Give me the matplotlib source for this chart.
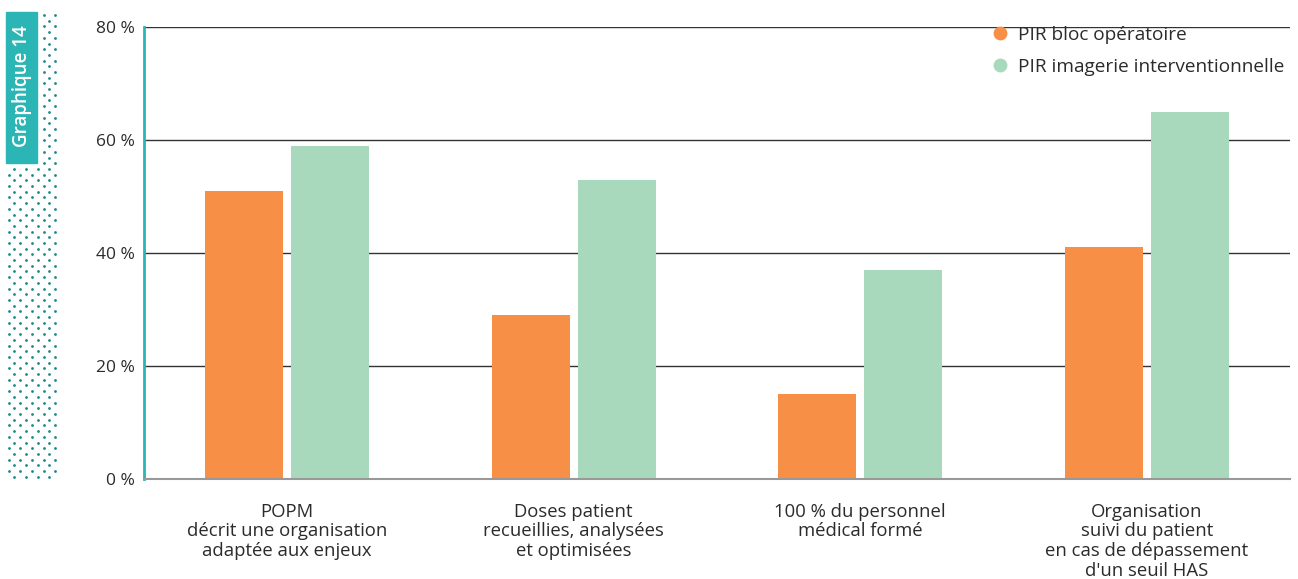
import numpy as np
import matplotlib

matplotlib.use("Agg")
import matplotlib.pyplot as plt
from matplotlib.lines import Line2D

plt.rcParams["font.family"] = ["Open Sans", "DejaVu Sans"]

CATEGORIES = [
    "POPM\ndécrit une organisation\nadaptée aux enjeux",
    "Doses patient\nrecueillies, analysées\net optimisées",
    "100 % du personnel\nmédical formé",
    "Organisation\nsuivi du patient\nen cas de dépassement\nd'un seuil HAS",
]
BLOC = [51, 29, 15, 41]
IMAGERIE = [59, 53, 37, 65]
SERIES_LABELS = ["PIR bloc opératoire", "PIR imagerie interventionnelle"]
Y_TICKS = [0, 20, 40, 60, 80]

ORANGE = "#F78F47"
GREEN = "#A9D9BC"
TEAL = "#2BB5B4"
DOT = "#1B8A86"
TEXT = "#2b2b2b"

W, H = 1298, 579
fig = plt.figure(figsize=(W / 100, H / 100), dpi=100)

# dotted band on the left edge
rows = np.arange(15, 478, 5.7)
for i, y in enumerate(rows):
    xs = np.arange(8.5 if i % 2 == 0 else 14.3, 57, 11.7)
    if y < 165:
        xs = xs[xs > 38]
    fig.add_artist(Line2D(xs / W, np.full_like(xs, 1 - y / H), ls="none",
                          marker="o", ms=2.0, mec="none", mfc=DOT))

# teal tag with the chart number
tag = plt.Rectangle((6 / W, 1 - 163 / H), 31 / W, 151 / H, transform=fig.transFigure,
                    color=TEAL, zorder=3)
fig.add_artist(tag)
fig.text(22 / W, 1 - 86 / H, "Graphique 14", rotation=90, color="white",
         fontsize=13.5, fontweight="semibold", ha="center", va="center", zorder=4)

ax = fig.add_axes([144 / W, 100 / H, 1146 / W, 452 / H])
x = np.arange(len(CATEGORIES))
bw = 0.272
off = 0.15
ax.bar(x - off, BLOC, bw, color=ORANGE, zorder=2)
ax.bar(x + off, IMAGERIE, bw, color=GREEN, zorder=2)

ax.set_xlim(-0.5, len(CATEGORIES) - 0.5)
ax.set_ylim(0, 80)
ax.set_yticks(Y_TICKS)
ax.set_yticklabels([f"{t} %" for t in Y_TICKS], fontsize=12.5, color=TEXT)
ax.set_xticks(x)
ax.set_xticklabels(CATEGORIES, fontsize=13.3, color=TEXT, linespacing=1.12, va="top")
ax.tick_params(axis="both", length=0)
ax.tick_params(axis="y", pad=6.5)
ax.tick_params(axis="x", pad=17)

ax.grid(axis="y", color="#333333", lw=1.0, zorder=1)
ax.set_axisbelow(True)
for side in ["top", "right"]:
    ax.spines[side].set_visible(False)
ax.spines["left"].set_color(TEAL)
ax.spines["left"].set_linewidth(2)
ax.spines["bottom"].set_color("#999999")
ax.spines["bottom"].set_linewidth(1.5)
ax.spines["bottom"].set_zorder(3)

handles = [Line2D([], [], ls="none", marker="o", ms=10, mec="none", mfc=c)
           for c in (ORANGE, GREEN)]
fig.legend(handles, SERIES_LABELS, loc="upper right", bbox_to_anchor=(1292 / W, 1 - 18 / H),
           frameon=False, fontsize=13.7, handletextpad=0.55, labelspacing=0.75,
           handlelength=0.8, borderaxespad=0, labelcolor=TEXT)

fig.savefig("out.png", dpi=100)
